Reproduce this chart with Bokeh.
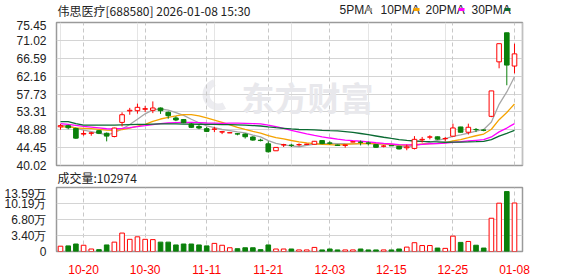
from bokeh.plotting import figure
from bokeh.models import Range1d, FixedTicker, Label, ColumnDataSource, Grid, PrintfTickFormatter, Title
from bokeh.core.properties import value
from bokeh.layouts import column
from bokeh.embed import file_html
from bokeh.resources import INLINE
import numpy as np

# ---------------- data ----------------
dates = ["10-15", "10-16", "10-17", "10-20", "10-21", "10-22", "10-23", "10-24", "10-27", "10-28",
         "10-29", "10-30", "10-31", "11-03", "11-04", "11-05", "11-06", "11-07", "11-10", "11-11",
         "11-12", "11-13", "11-14", "11-17", "11-18", "11-19", "11-20", "11-21", "11-24", "11-25",
         "11-26", "11-27", "11-28", "12-01", "12-02", "12-03", "12-04", "12-05", "12-08", "12-09",
         "12-10", "12-11", "12-12", "12-15", "12-16", "12-17", "12-18", "12-19", "12-22", "12-23",
         "12-24", "12-25", "12-26", "12-29", "12-30", "12-31", "01-05", "01-06", "01-07", "01-08"]
opens = [49.60, 49.88, 49.20, 47.80, 48.00, 48.65, 48.00, 47.20, 50.70, 53.55,
         53.60, 53.95, 53.70, 54.27, 53.20, 51.80, 51.40, 50.30, 49.70, 49.15,
         49.00, 48.30, 48.10, 47.90, 47.80, 47.07, 46.30, 45.40, 43.67, 45.10,
         45.05, 45.15, 45.25, 45.28, 46.19, 45.60, 45.10, 45.00, 45.85, 45.80,
         45.60, 45.20, 44.80, 44.95, 44.78, 44.40, 44.25, 46.35, 47.05, 47.12,
         46.65, 47.28, 49.57, 48.26, 48.95, 48.80, 52.20, 65.70, 72.90, 64.66]
highs = [50.30, 50.10, 49.40, 48.70, 48.30, 48.80, 48.20, 49.40, 53.20, 54.30,
         55.35, 54.80, 55.90, 54.40, 53.40, 52.20, 51.50, 50.55, 50.30, 49.60,
         49.60, 48.50, 48.20, 48.06, 48.00, 47.30, 46.65, 46.00, 44.60, 45.40,
         45.40, 45.50, 45.40, 46.10, 46.30, 46.00, 45.20, 45.15, 46.00, 46.20,
         45.95, 45.30, 45.10, 45.00, 44.90, 45.20, 47.30, 47.10, 47.50, 47.20,
         47.10, 50.38, 49.60, 50.38, 49.30, 49.00, 58.50, 70.20, 72.90, 70.20]
lows = [48.90, 49.00, 46.60, 47.40, 47.40, 47.80, 46.00, 47.00, 49.70, 52.60,
        52.86, 53.30, 53.00, 52.80, 51.60, 51.00, 50.50, 49.30, 49.00, 48.30,
        48.30, 47.80, 48.05, 47.50, 46.70, 46.16, 46.00, 43.20, 43.60, 44.60,
        44.60, 44.80, 45.20, 45.20, 45.30, 45.20, 44.90, 44.45, 45.80, 45.00,
        45.00, 44.40, 44.50, 44.85, 44.00, 43.80, 44.00, 45.70, 46.50, 46.40,
        46.00, 47.10, 48.20, 47.70, 48.30, 48.50, 52.00, 64.10, 59.90, 62.86]
closes = [49.90, 49.38, 46.80, 47.95, 48.10, 48.00, 47.30, 49.30, 52.60, 53.70,
          54.43, 54.10, 54.27, 53.60, 52.36, 51.30, 50.63, 49.47, 49.30, 48.47,
          49.05, 48.40, 48.15, 47.80, 47.15, 46.32, 46.20, 43.43, 44.50, 45.20,
          45.00, 45.20, 45.30, 46.02, 45.44, 45.55, 45.00, 45.10, 45.90, 45.75,
          45.55, 44.53, 44.85, 44.90, 44.12, 44.60, 46.50, 46.50, 47.10, 46.55,
          46.70, 49.32, 48.26, 49.49, 48.90, 48.75, 58.50, 70.20, 64.90, 67.68]
volumes = [11270, 11930, 15910, 13260, 5300, 3980, 13920, 19890, 39120, 25860,
           31160, 25860, 25190, 19890, 19890, 13920, 15910, 15910, 13920, 11930,
           17240, 13260, 7960, 5970, 7960, 7960, 3980, 13920, 5300, 5300,
           5330, 3330, 3330, 8660, 3330, 5330, 3330, 3330, 3330, 5330,
           3330, 3330, 3330, 3330, 5330, 9330, 18650, 12660, 12660, 7330,
           6660, 32640, 19320, 21320, 13320, 7330, 70620, 102600, 127240, 102974]
# closes of the 29 sessions before the window (only feed the moving averages)
prior_closes = [49.4, 62.0, 58.0, 48.5, 48.2, 47.5, 49.0, 51.0, 52.0, 52.8,
                53.0, 52.5, 52.6, 52.0, 51.8, 51.4, 50.5, 50.0, 49.5, 49.2,
                49.3, 49.2, 49.0, 49.2, 49.4, 49.5, 50.0, 50.3, 50.0]
tick_dates = ["10-20", "10-30", "11-11", "11-21", "12-03", "12-15", "12-25", "01-08"]
price_ticks = [40.02, 44.45, 48.88, 53.31, 57.73, 62.16, 66.59, 71.02, 75.45]
vol_max = 135900
vol_ticks = [0, 33975, 67950, 101925, 135900]
vol_tick_labels = ["0", "3.40万", "6.80万", "10.19万", "13.59万"]
ma_periods = [5, 10, 20, 30]
ma_names = ["5PMA", "10PMA", "20PMA", "30PMA"]
ma_colors = ["#a6a6a6", "#f5a300", "#ff00ff", "#0b6b33"]
title_text = "伟思医疗[688580] 2026-01-08 15:30"
vol_title = "成交量:" + str(volumes[-1])
watermark = "东方财富"

RED = "#ff0000"
GREEN = "#0a800a"
GRID = "#d4d4d4"
FRAME = "#9a9a9a"
TXT = "#222222"
LABEL_FONT = "Liberation Sans"
CJK_FONT = "Noto Sans CJK SC"

n = len(closes)
idx = np.arange(n)
up = [c >= o for o, c in zip(opens, closes)]
all_closes = np.array(prior_closes + closes)
ofs = len(prior_closes)
mas = [[all_closes[ofs + i - per + 1: ofs + i + 1].mean() for i in range(n)] for per in ma_periods]

src = ColumnDataSource(dict(
    x=idx, o=opens, h=highs, l=lows, c=closes, v=volumes,
    top=[max(o, c) for o, c in zip(opens, closes)],
    bot=[min(o, c) for o, c in zip(opens, closes)],
    line=[RED if u else GREEN for u in up],
    fill=["#ffffff" if u else GREEN for u in up],
))

W = 578
L, R = 56, 56
x0, x1 = -0.52, 60.04
tick_idx = [dates.index(d) for d in tick_dates]

# ---------------- header ----------------
H0 = 20
hd = figure(width=W, height=H0, output_backend="svg", toolbar_location=None,
            x_range=Range1d(L, W - R), y_range=Range1d(H0, 0),
            x_axis_location=None, y_axis_location=None,
            min_border_left=L, min_border_right=R, min_border_top=0, min_border_bottom=0)
hd.outline_line_color = None
hd.grid.visible = False
hd.text(x=[57], y=[9.5], text=[title_text], text_font=value(CJK_FONT), text_font_size="12px",
        text_color=TXT, text_baseline="middle", text_align="left")
leg_x = [339, 380, 425, 471]
for lx, name, col in zip(leg_x, ma_names, ma_colors):
    hd.text(x=[lx], y=[9.5], text=[name], text_font=value(LABEL_FONT), text_font_size="12px",
            text_color=TXT, text_baseline="middle", text_align="left")
    dx = lx + 6.4 * len(name) + 1
    hd.quad(left=[dx], right=[dx + 6], top=[7.5], bottom=[10.5], fill_color=col, line_color=None)

# ---------------- price panel ----------------
TA, BA = 2, 21
HA = TA + 143 + BA
y0, y1 = price_ticks[0], price_ticks[-1]
pa = figure(width=W, height=HA, output_backend="svg", toolbar_location=None,
            x_range=Range1d(x0, x1), y_range=Range1d(y0, y1),
            x_axis_location=None, min_border_left=L, min_border_right=R,
            min_border_top=TA, min_border_bottom=BA)
pa.outline_line_color = FRAME
pa.outline_line_width = 1.5
pa.yaxis.ticker = FixedTicker(ticks=price_ticks)
pa.yaxis.formatter = PrintfTickFormatter(format="%.2f")
pa.ygrid.grid_line_color = GRID
pa.add_layout(Grid(dimension=0, ticker=FixedTicker(ticks=tick_idx),
                   grid_line_color="#c8c8c8", grid_line_dash="4 3"))
ax = pa.yaxis[0]
ax.axis_line_color = None
ax.major_tick_line_color = None
ax.minor_tick_line_color = None
ax.major_label_standoff = 4
ax.major_label_text_font = LABEL_FONT
ax.major_label_text_font_size = "12px"
ax.major_label_text_color = TXT

# volume caption sits under the price frame
pa.add_layout(Title(text=vol_title, align="left", offset=1, standoff=2,
                    text_font=CJK_FONT, text_font_size="12px", text_font_style="normal",
                    text_color=TXT), "below")

fw = W - L - R
def xd(px):
    return x0 + (px - L) * (x1 - x0) / fw
fha = 143
def yd_a(py):
    return y1 - (py - H0 - TA) * (y1 - y0) / fha

# watermark (faint brand mark behind the candles)
pa.annular_wedge(x=[xd(218)], y=[yd_a(94)], inner_radius=9, outer_radius=16,
                 inner_radius_units="screen", outer_radius_units="screen",
                 start_angle=1.9, end_angle=5.2, fill_color="#ececf0", line_color=None,
                 level="underlay")
pa.add_layout(Label(x=xd(241), y=yd_a(96), text=watermark, text_font=CJK_FONT,
                    text_font_size="33px", text_font_style="bold", text_color="#e8e8ec",
                    text_baseline="middle", text_align="left", level="underlay"))

for ma, col in zip(mas, ma_colors):
    pa.line(idx, ma, line_color=col, line_width=1.3)

pa.segment(x0="x", y0="h", x1="x", y1="l", line_color="line", line_width=1, source=src)
pa.vbar(x="x", top="top", bottom="bot", width=0.6, fill_color="fill", line_color="line",
        line_width=1, source=src)

# ---------------- volume panel ----------------
TB, BB = 1, 21
HB = TB + 68 + BB
pb = figure(width=W, height=HB, output_backend="svg", toolbar_location=None,
            x_range=Range1d(x0, x1), y_range=Range1d(0, vol_max),
            min_border_left=L, min_border_right=R,
            min_border_top=TB, min_border_bottom=BB)
pb.outline_line_color = FRAME
pb.outline_line_width = 1.5
pb.yaxis.ticker = FixedTicker(ticks=vol_ticks)
pb.yaxis.major_label_overrides = dict(zip(vol_ticks, vol_tick_labels))
pb.xaxis.ticker = FixedTicker(ticks=tick_idx)
pb.xaxis.major_label_overrides = {i: dates[i] for i in tick_idx}
pb.ygrid.grid_line_color = GRID
pb.xgrid.grid_line_color = "#c8c8c8"
pb.xgrid.grid_line_dash = "4 3"
for a in [pb.yaxis[0], pb.xaxis[0]]:
    a.axis_line_color = None
    a.major_tick_line_color = None
    a.minor_tick_line_color = None
    a.major_label_text_font = LABEL_FONT
    a.major_label_text_font_size = "12px"
pb.yaxis.major_label_standoff = 4
pb.yaxis.major_label_text_color = TXT
pb.xaxis.major_label_standoff = 7
pb.xaxis.major_label_text_color = RED

pb.vbar(x="x", top="v", bottom=0, width=0.6, fill_color="fill", line_color="line",
        line_width=1, source=src)

layout = column(hd, pa, pb, spacing=0)
open("out.html", "w").write(file_html(layout, INLINE))
